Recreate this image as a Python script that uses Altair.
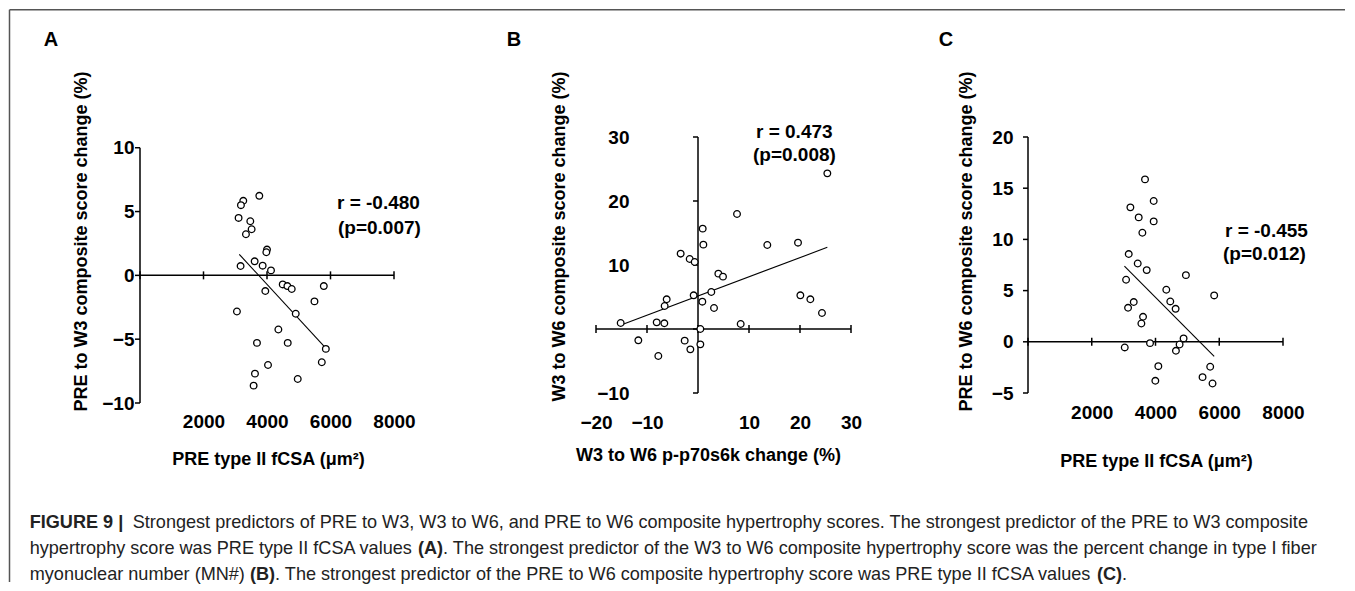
import altair as alt
import pandas as pd

FONT = "Liberation Sans"

# ---------------- data ----------------
a_x = [3253, 3179, 3758, 3105, 3474, 3516, 3337, 4000, 3979, 3611, 3863, 3168, 4126, 3947, 4495,
       4642, 4779, 5789, 5495, 3053, 4905, 4358, 3684, 4653, 5853, 5726, 4032, 3621, 3579, 4968]
a_y = [5.84, 5.50, 6.23, 4.50, 4.24, 3.61, 3.22, 2.02, 1.81, 1.10, 0.76, 0.73, 0.39, -1.23, -0.71,
       -0.84, -1.07, -0.84, -2.04, -2.83, -3.01, -4.24, -5.29, -5.29, -5.76, -6.81, -7.02, -7.70, -8.64, -8.12]
a_fit_x = [3126, 5895]
a_fit_y = [1.65, -5.81]

b_x = [25.36, 7.65, 0.92, 1.05, 13.59, 19.61, -3.40, -1.63, -0.65, 3.99, 4.90, 2.61, -0.85, 0.85, -6.14,
       -6.54, 3.14, 20.07, 22.03, 24.31, -15.16, -8.10, -6.60, 8.37, 0.46, -11.70, -2.61, -1.50, 0.46, -7.78]
b_y = [24.32, 17.97, 15.68, 13.18, 13.13, 13.49, 11.77, 10.94, 10.47, 8.65, 8.18, 5.78, 5.26, 4.27, 4.64,
       3.59, 3.28, 5.26, 4.64, 2.50, 0.94, 1.04, 0.89, 0.78, 0.0, -1.77, -1.82, -3.18, -2.40, -4.22]
b_fit_x = [-14.7, 25.36]
b_fit_y = [0.73, 12.76]

c_x = [3671, 3943, 3212, 3473, 3943, 3588, 3160, 3442, 3724, 4954, 3077, 4339, 4464, 4631, 3317,
       3139, 3609, 3557, 5841, 4881, 3828, 3035, 4756, 4641, 4089, 5716, 5476, 5789, 3995]
c_y = [15.86, 13.75, 13.13, 12.15, 11.76, 10.65, 8.57, 7.65, 7.00, 6.51, 6.06, 5.08, 3.94, 3.22, 3.88,
       3.32, 2.44, 1.79, 4.53, 0.33, -0.13, -0.55, -0.26, -0.88, -2.38, -2.44, -3.45, -4.07, -3.81]
c_fit_x = [3025, 5841]
c_fit_y = [7.39, -1.43]

a_xticks = [0, 2000, 4000, 6000, 8000]
a_yticks = [-10, -5, 0, 5, 10]
a_xlabels = [2000, 4000, 6000, 8000]
a_ylabels = [-10, -5, 0, 5, 10]

b_xticks = [-20, -10, 0, 10, 20, 30]
b_yticks = [-10, 0, 10, 20, 30]
b_xlabels = [-20, -10, 10, 20, 30]
b_ylabels = [-10, 10, 20, 30]

c_xticks = [0, 2000, 4000, 6000, 8000]
c_yticks = [-5, 0, 5, 10, 15, 20]
c_xlabels = [2000, 4000, 6000, 8000]
c_ylabels = [-5, 0, 5, 10, 15, 20]

a_stats = ["r = -0.480", "(p=0.007)"]
b_stats = ["r = 0.473", "(p=0.008)"]
c_stats = ["r = -0.455", "(p=0.012)"]

x_title_a = "PRE type II fCSA (\u03bcm\u00b2)"
y_title_a = "PRE to W3 composite score change (%)"
x_title_b = "W3 to W6 p-p70s6k change (%)"
y_title_b = "W3 to W6 composite score change (%)"
x_title_c = "PRE type II fCSA (\u03bcm\u00b2)"
y_title_c = "PRE to W6 composite score change (%)"

cap_bold_1 = "FIGURE 9 |"
cap_1 = "Strongest predictors of PRE to W3, W3 to W6, and PRE to W6 composite hypertrophy scores. The strongest predictor of the PRE to W3 composite"
cap_2a = "hypertrophy score was PRE type II fCSA values"
cap_2b = "(A)"
cap_2c = ". The strongest predictor of the W3 to W6 composite hypertrophy score was the percent change in type I fiber"
cap_3a = "myonuclear number (MN#)"
cap_3b = "(B)"
cap_3c = ". The strongest predictor of the PRE to W6 composite hypertrophy score was PRE type II fCSA values"
cap_3d = "(C)"
cap_3e = "."


def panel(px, py, fx, fy, xdom, ydom, w, h, xspan, yspan, xticks, yticks, xlabels, ylabels,
          xtitle, ytitle, xlab_pad, ylab_pad, xtitle_pos, ytitle_pos, stats, stats_pos, letter, letter_pos):
    xs = alt.Scale(domain=xdom, nice=False, zero=False)
    ys = alt.Scale(domain=ydom, nice=False, zero=False)
    xax = alt.Axis(values=xlabels, domain=False, ticks=False, tickSize=0, grid=False, format="d",
                   labelPadding=xlab_pad, labelFont=FONT, labelFontSize=19, labelFontWeight="bold",
                   labelColor="black", labelFlush=False, labelOverlap=False, labelBaseline="middle",
                   title=xtitle, titleFont=FONT, titleFontSize=18, titleFontWeight="bold",
                   titleColor="black", titleX=xtitle_pos[0], titleY=xtitle_pos[1],
                   titleAlign="center", titleBaseline="middle")
    yax = alt.Axis(values=ylabels, domain=False, ticks=False, tickSize=0, grid=False, format="d",
                   labelPadding=ylab_pad, labelFont=FONT, labelFontSize=19, labelFontWeight="bold",
                   labelColor="black", labelFlush=False, labelOverlap=False,
                   title=ytitle, titleFont=FONT, titleFontSize=18, titleFontWeight="bold",
                   titleColor="black", titleX=ytitle_pos[0], titleY=ytitle_pos[1],
                   titleAlign="center", titleBaseline="middle")
    X = lambda f: alt.X(f, type="quantitative", scale=xs, axis=xax)
    Y = lambda f: alt.Y(f, type="quantitative", scale=ys, axis=yax)

    hline = alt.Chart(pd.DataFrame({"x": [xspan[0]], "x2": [xspan[1]], "y": [0]})).mark_rule(
        color="black", strokeWidth=1.5).encode(x=X("x"), x2="x2", y=Y("y"))
    vline = alt.Chart(pd.DataFrame({"x": [0], "y": [yspan[0]], "y2": [yspan[1]]})).mark_rule(
        color="black", strokeWidth=1.5).encode(x=X("x"), y=Y("y"), y2="y2")
    xt = alt.Chart(pd.DataFrame({"x": xticks, "y": [0] * len(xticks)})).mark_rule(
        color="black", strokeWidth=1.5, yOffset=-4, y2Offset=4).encode(x=X("x"), y=Y("y"), y2="y")
    yt = alt.Chart(pd.DataFrame({"x": [0] * len(yticks), "y": yticks})).mark_rule(
        color="black", strokeWidth=1.5, x2Offset=-5).encode(x=X("x"), x2="x", y=Y("y"))
    fit = alt.Chart(pd.DataFrame({"x": fx, "y": fy})).mark_line(
        color="black", strokeWidth=1.1).encode(x=X("x"), y=Y("y"))
    pts = alt.Chart(pd.DataFrame({"x": px, "y": py})).mark_point(
        shape="circle", size=44, fill="white", fillOpacity=1, stroke="black", strokeWidth=1.3,
        opacity=1).encode(x=X("x"), y=Y("y"))
    layers = [hline, vline, xt, yt, fit, pts]
    for i, s in enumerate(stats):
        layers.append(alt.Chart(pd.DataFrame({"t": [s]})).mark_text(
            font=FONT, fontSize=19, fontWeight="bold", color="black", align="left", baseline="middle").encode(
            x=alt.value(stats_pos[i][0]), y=alt.value(stats_pos[i][1]), text="t:N"))
    layers.append(alt.Chart(pd.DataFrame({"t": [letter]})).mark_text(
        font=FONT, fontSize=20, fontWeight="bold", color="black", align="center", baseline="middle").encode(
        x=alt.value(letter_pos[0]), y=alt.value(letter_pos[1]), text="t:N"))
    return layers, w, h


a_layers, aw, ah = panel(a_x, a_y, a_fit_x, a_fit_y, [0, 8000], [-10, 10.84], 254, 266,
                         [0, 8000], [-10, 10], a_xticks, a_yticks, a_xlabels, a_ylabels,
                         x_title_a, y_title_a, 18, 6, (128, 56), (-59, 104),
                         a_stats, [(197, 66), (198, 91)], "A", (-89, -97))
b_layers, bw, bh = panel(b_x, b_y, b_fit_x, b_fit_y, [-20, 30], [-10, 30], 255, 256,
                         [-20, 30], [-10, 30], b_xticks, b_yticks, b_xlabels, b_ylabels,
                         x_title_b, y_title_b, 29, -33, (112, 62), (-37, 99),
                         b_stats, [(160, -5), (157, 18)], "B", (-82, -97))
c_layers, cw, ch = panel(c_x, c_y, c_fit_x, c_fit_y, [0, 8000], [-5, 20], 255, 256,
                         [0, 8000], [-5, 20], c_xticks, c_yticks, c_xlabels, c_ylabels,
                         x_title_c, y_title_c, 19, 15, (128, 68), (-62, 104),
                         c_stats, [(197, 94), (195, 117)], "C", (-82, -97))

# frame and caption layered into panel A (pixel positions relative to A's plot area)
one = pd.DataFrame({"v": [0]})
frame_top = alt.Chart(one).mark_rule(color="#555", strokeWidth=1.5).encode(
    x=alt.value(-130.5), x2=alt.value(1205), y=alt.value(-127.3))
frame_left = alt.Chart(one).mark_rule(color="#555", strokeWidth=1.5).encode(
    x=alt.value(-130.5), y=alt.value(-127.3), y2=alt.value(445))

CAP_SIZE = 18.1


def cap(text, x, y, bold=False):
    return alt.Chart(pd.DataFrame({"t": [text]})).mark_text(
        font=FONT, fontSize=CAP_SIZE, fontWeight="bold" if bold else "normal", color="#222",
        align="left", baseline="middle").encode(x=alt.value(x), y=alt.value(y), text="t:N")


captions = [
    cap(cap_bold_1, -110.3, 386, True), cap(cap_1, -7.3, 386),
    cap(cap_2a, -110.3, 412), cap(cap_2b, 278, 412, True), cap(cap_2c, 303.1, 412),
    cap(cap_3a, -110.3, 438), cap(cap_3b, 110, 438, True), cap(cap_3c, 135.1, 438),
    cap(cap_3d, 957, 438, True), cap(cap_3e, 982.1, 438),
]

chart_a = alt.layer(*a_layers, frame_top, frame_left, *captions).properties(width=aw, height=ah)
chart_b = alt.layer(*b_layers).properties(width=bw, height=bh)
chart_c = alt.layer(*c_layers).properties(width=cw, height=ch)


def spacer(w):
    return alt.Chart(one).mark_point(opacity=0).encode(
        x=alt.value(0), y=alt.value(0)).properties(width=w, height=10)


chart = alt.hconcat(chart_a, spacer(201.7), chart_b, spacer(176.7), chart_c,
                    spacing=0, bounds="flush").properties(padding=0).configure_view(stroke=None)

chart.save("out.html", embed_options={"renderer": "svg", "actions": False})
